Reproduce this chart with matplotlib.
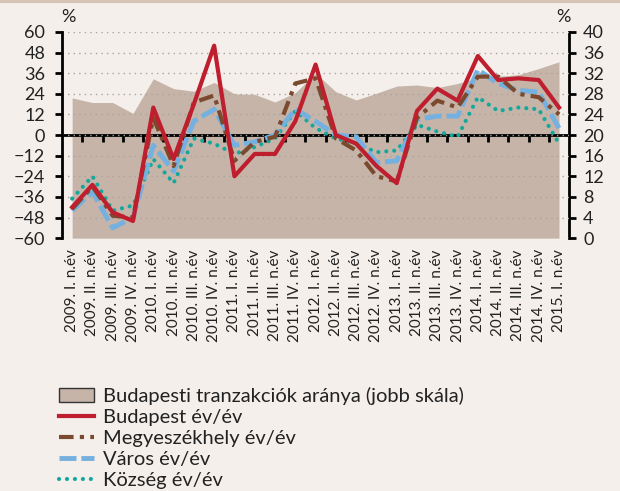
import numpy as np
import matplotlib
matplotlib.use('Agg')
import matplotlib.pyplot as plt
from matplotlib.patches import Patch
from matplotlib.lines import Line2D

plt.rcParams['font.family'] = ['Lato', 'DejaVu Sans']

# quarters 2009 Q1 - 2015 Q1
quarters = ['2009. I. n.év', '2009. II. n.év', '2009. III. n.év', '2009. IV. n.év',
            '2010. I. n.év', '2010. II. n.év', '2010. III. n.év', '2010. IV. n.év',
            '2011. I. n.év', '2011. II. n.év', '2011. III. n.év', '2011. IV. n.év',
            '2012. I. n.év', '2012. II. n.év', '2012. III. n.év', '2012. IV. n.év',
            '2013. I. n.év', '2013. II. n.év', '2013. III. n.év', '2013. IV. n.év',
            '2014. I. n.év', '2014. II. n.év', '2014. III. n.év', '2014. IV. n.év',
            '2015. I. n.év']

# right scale (%)
bp_share = [27.2, 26.3, 26.3, 24.2, 30.9, 29.0, 28.5, 30.2, 28.0, 27.9, 26.4, 28.2, 32.0,
            28.4, 26.8, 28.1, 29.5, 29.7, 29.2, 30.0, 31.1, 31.4, 31.7, 32.9, 34.2]

# left scale (%)
budapest = [-42, -29, -45, -50, 16, -14, 18, 52, -24, -11, -11, 8, 41,
            0, -5, -18, -28, 14, 27, 20, 46, 32, 33, 32, 16]
megyeszekhely = [-43, -30, -47, -48, 10, -18, 19, 23, -15, -4, -1, 30, 33,
                 -2, -9, -24, -27, 10, 20, 16, 34, 34, 24, 22, 12]
varos = [-44, -33, -54, -48, -6, -21, 8, 15, -6, -4, 0, 15, 8,
         0, -1, -16, -15, 9, 11, 11, 38, 30, 26, 25, 4]
kozseg = [-37, -24, -44, -41, -14, -28, -2, -5, -11, -7, -2, 14, 4,
          -2, -5, -10, -9, 6, 2, -1, 22, 14, 16, 15, -5]

bg = '#f5efeb'
c_area = '#c6b4a8'
c_red = '#be1e2d'
c_brown = '#7b4a2e'
c_blue = '#74b0e0'
c_teal = '#14a89c'
c_txt = '#222222'

x = np.arange(len(quarters))

fig = plt.figure(figsize=(6.2, 4.91), dpi=100, facecolor=bg)
ax = fig.add_subplot(111)
fig.subplots_adjust(left=0.1, right=0.918, top=0.935, bottom=0.515)
ax2 = ax.twinx()
ax.set_zorder(ax2.get_zorder() + 1)
ax.patch.set_visible(False)
ax2.patch.set_facecolor(bg)

ax2.fill_between(x, 0, bp_share, color=c_area, lw=0)
ax2.set_ylim(0, 40)
ax2.set_yticks(np.arange(0, 41, 4))

ax.plot(x, kozseg, color=c_teal, lw=3, linestyle=(0, (0.01, 1.9)), dash_capstyle='round')
ax.plot(x, varos, color=c_blue, lw=3.5, linestyle=(0, (3.5, 1)))
ax.plot(x, megyeszekhely, color=c_brown, lw=3, linestyle=(0, (3.5, 1.5, 1, 1.5)))
ax.plot(x, budapest, color=c_red, lw=3)

ax.set_ylim(-60, 60)
ax.set_yticks(np.arange(-60, 61, 12))
ax.set_yticklabels([str(v).replace('-', '\u2212') for v in range(-60, 61, 12)])
ax.set_xlim(-0.5, len(quarters) - 0.5)
ax.set_xticks(x)
ax.set_xticklabels(quarters, rotation=90, fontsize=11, color=c_txt)
ax.tick_params(axis='x', length=0, pad=8)
ax.grid(axis='y', color='#a8a4a2', linestyle=(0, (1, 3)), lw=1)

for a in (ax, ax2):
    a.spines['top'].set_visible(False)
    a.spines['bottom'].set_visible(False)
ax2.spines['left'].set_visible(False)
ax.spines['right'].set_visible(False)
ax.spines['left'].set_linewidth(2)
ax2.spines['right'].set_linewidth(2)
ax.tick_params(axis='y', direction='out', length=5, width=2, labelsize=13, labelcolor=c_txt, pad=7)
ax2.tick_params(axis='y', direction='out', length=5, width=2, labelsize=13, labelcolor=c_txt, pad=5)

# zero line with category ticks
sec = ax.secondary_xaxis(0.5)
sec.set_xticks(x[:-1] + 0.5)
sec.tick_params(direction='in', length=5, width=2, labeltop=False, labelbottom=False)
for s in sec.spines.values():
    s.set_linewidth(2)

fig.text(0.11, 0.955, '%', fontsize=13, color=c_txt, ha='center')
fig.text(0.908, 0.955, '%', fontsize=13, color=c_txt, ha='center')

fig.add_artist(Line2D([0, 1], [0.997, 0.997], transform=fig.transFigure, color='#d8c4b4', lw=3))

handles = [Patch(facecolor=c_area, edgecolor='#333333', lw=1),
           Line2D([], [], color=c_red, lw=3),
           Line2D([], [], color=c_brown, lw=3, linestyle=(0, (3.5, 1.5, 1, 1.5))),
           Line2D([], [], color=c_blue, lw=3.5, linestyle=(0, (3.5, 1))),
           Line2D([], [], color=c_teal, lw=3, linestyle=(0, (0.01, 1.9)), dash_capstyle='round')]
labels = ['Budapesti tranzakciók aránya (jobb skála)', 'Budapest év/év',
          'Megyeszékhely év/év', 'Város év/év', 'Község év/év']
leg = fig.legend(handles, labels, loc='upper left', bbox_to_anchor=(0.095, 0.212),
                 frameon=False, fontsize=14.5, handlelength=1.75, handletextpad=0.45,
                 labelspacing=0.19, borderpad=0, borderaxespad=0)
for t in leg.get_texts():
    t.set_color(c_txt)

plt.savefig('out.png', dpi=100, facecolor=bg)
